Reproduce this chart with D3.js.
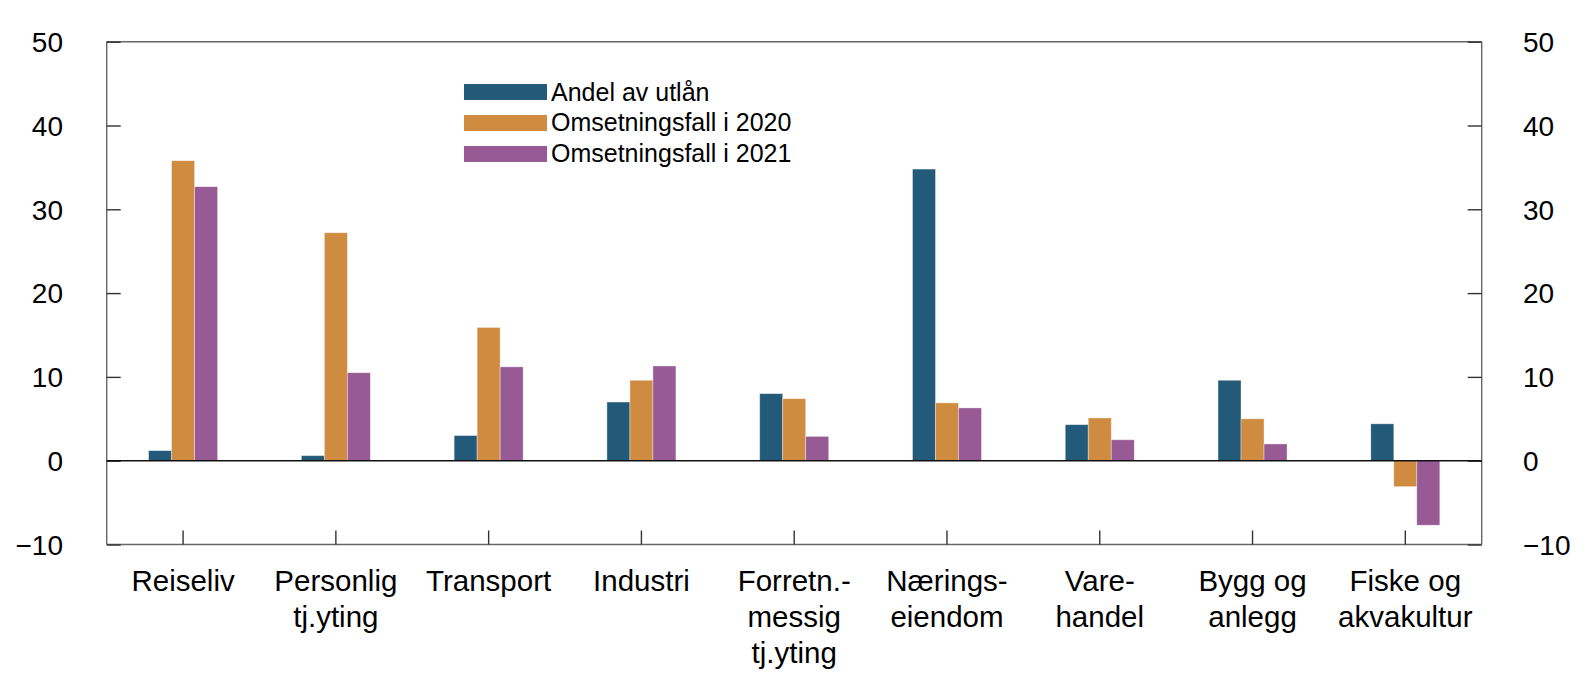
<!DOCTYPE html>
<html><head><meta charset="utf-8">
<script src="https://cdn.jsdelivr.net/npm/d3@7"></script>
<style>body{margin:0;background:#fff}svg{display:block}text{font-family:"Liberation Sans",Arial,sans-serif;fill:#000}</style>
</head><body>
<svg id="c" width="1594" height="685"></svg>
<script>
const categories = [["Reiseliv"],["Personlig","tj.yting"],["Transport"],["Industri"],["Forretn.-","messig","tj.yting"],["Nærings-","eiendom"],["Vare-","handel"],["Bygg og","anlegg"],["Fiske og","akvakultur"]];
const seriesNames = ["Andel av utlån","Omsetningsfall i 2020","Omsetningsfall i 2021"];
const andelAvUtlan = [1.2, 0.6, 3.0, 7.0, 8.0, 34.8, 4.3, 9.6, 4.4];
const omsetning2020 = [35.8, 27.2, 15.9, 9.6, 7.4, 6.9, 5.1, 5.0, -3.1];
const omsetning2021 = [32.7, 10.5, 11.2, 11.3, 2.9, 6.3, 2.5, 2.0, -7.7];
const yTicks = [-10, 0, 10, 20, 30, 40, 50];
const colors = ["#235a7a", "#cf8c41", "#975a95"];

const series = [andelAvUtlan, omsetning2020, omsetning2021];
const svg = d3.select("#c");
const L = 106.7, R = 1481.7, T = 41.7, B = 544.5;
const x = d3.scaleBand().domain(d3.range(categories.length)).range([L, R]);
const y = d3.scaleLinear().domain([-10, 50]).range([B, T]);
const groupW = 69;
const xs = d3.scaleBand().domain(d3.range(series.length)).range([0, groupW]);

// bars
series.forEach((vals, si) => {
  svg.append("g").selectAll("rect").data(vals).join("rect")
    .attr("x", (d, i) => x(i) + x.bandwidth()/2 - groupW/2 + xs(si))
    .attr("width", xs.bandwidth())
    .attr("y", d => y(Math.max(0, d)))
    .attr("height", d => Math.abs(y(d) - y(0)))
    .attr("fill", colors[si])
    .attr("stroke", "rgba(255,255,255,0.45)").attr("stroke-width", 0.8);
});

const axisColor = "#666";
// frame
svg.append("line").attr("x1", L).attr("x2", R).attr("y1", T).attr("y2", T).attr("stroke", axisColor).attr("stroke-width", 1.4);
svg.append("line").attr("x1", L).attr("x2", R).attr("y1", B).attr("y2", B).attr("stroke", axisColor).attr("stroke-width", 1.4);
svg.append("line").attr("x1", L).attr("x2", L).attr("y1", T).attr("y2", B).attr("stroke", axisColor).attr("stroke-width", 1.4);
svg.append("line").attr("x1", R).attr("x2", R).attr("y1", T).attr("y2", B).attr("stroke", axisColor).attr("stroke-width", 1.4);

// y axes (ticks inward)
const fmt = d => d < 0 ? "\u2212" + Math.abs(d) : d;
const leftAxis = d3.axisLeft(y).tickValues(yTicks).tickSize(-14).tickPadding(0).tickFormat(fmt);
const gl = svg.append("g").attr("transform", `translate(${L},0)`).call(leftAxis);
gl.select(".domain").remove();
gl.selectAll(".tick line").attr("stroke", "#333").attr("stroke-width", 1.4);
gl.selectAll(".tick text").attr("x", 63 - L).attr("dy", "0.35em").style("font-size", "28px").attr("text-anchor", "end").attr("fill", "#000");

const rightAxis = d3.axisRight(y).tickValues(yTicks).tickSize(-14).tickPadding(0).tickFormat(fmt);
const gr = svg.append("g").attr("transform", `translate(${R},0)`).call(rightAxis);
gr.select(".domain").remove();
gr.selectAll(".tick line").attr("stroke", "#333").attr("stroke-width", 1.4);
gr.selectAll(".tick text").attr("x", 1523 - R).attr("dy", "0.35em").style("font-size", "28px").attr("text-anchor", "start").attr("fill", "#000");

// zero line
svg.append("line").attr("x1", L).attr("x2", R).attr("y1", y(0)).attr("y2", y(0)).attr("stroke", "#111").attr("stroke-width", 1.6);

// category ticks (upward)
const bottomAxis = d3.axisBottom(x).tickSize(-14).tickFormat("");
const gb = svg.append("g").attr("transform", `translate(0,${B})`).call(bottomAxis);
gb.select(".domain").remove();
gb.selectAll(".tick line").attr("stroke", "#333").attr("stroke-width", 1.4);

// category labels
const lab = svg.append("g").selectAll("text").data(categories).join("text")
  .attr("x", (d, i) => x(i) + x.bandwidth()/2)
  .attr("y", 591)
  .attr("text-anchor", "middle")
  .style("font-size", "29.5px");
lab.selectAll("tspan").data(d => d).join("tspan")
  .attr("x", function() { return d3.select(this.parentNode).attr("x"); })
  .attr("dy", (d, i) => i === 0 ? 0 : 36)
  .text(d => d);

// legend
const lg = svg.append("g");
seriesNames.forEach((n, i) => {
  lg.append("rect").attr("x", 464).attr("y", 84 + i*31).attr("width", 83).attr("height", 16).attr("fill", colors[i]);
  lg.append("text").attr("x", 551).attr("y", 100.7 + i*30.7).style("font-size", "25px").text(n);
});
</script>
</body></html>
